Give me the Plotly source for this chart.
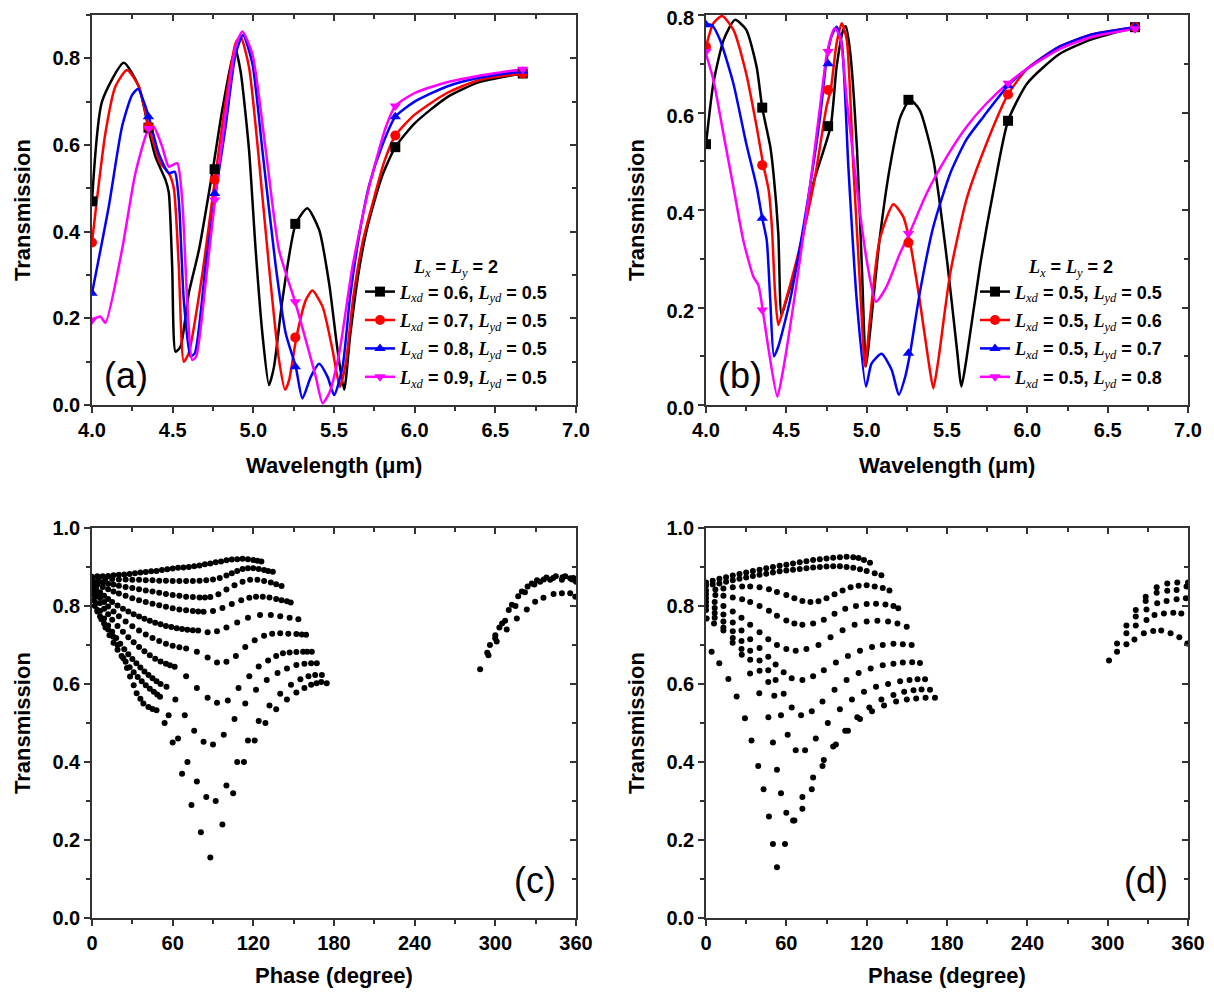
import plotly.graph_objects as go

# ---------------- Panel (a) data ----------------
A_BLACK_WL = [4.0, 4.062, 4.197, 4.290, 4.352, 4.393, 4.455, 4.476, 4.497, 4.518, 4.549, 4.600, 4.663, 4.749, 4.807, 4.870, 4.890, 4.921, 4.973, 5.014, 5.056, 5.097, 5.128, 5.180, 5.263, 5.335, 5.408, 5.470, 5.522, 5.563, 5.60, 5.65, 5.70, 5.75, 5.80, 5.88, 6.0, 6.2, 6.4, 6.67]
A_BLACK_T = [0.47, 0.70, 0.79, 0.735, 0.635, 0.573, 0.52, 0.49, 0.32, 0.123, 0.135, 0.258, 0.358, 0.544, 0.68, 0.80, 0.82, 0.77, 0.59, 0.36, 0.165, 0.046, 0.088, 0.242, 0.418, 0.454, 0.404, 0.28, 0.127, 0.035, 0.16, 0.30, 0.40, 0.47, 0.53, 0.595, 0.65, 0.71, 0.745, 0.765]
A_RED_WL = [4.0, 4.083, 4.145, 4.217, 4.290, 4.352, 4.424, 4.476, 4.507, 4.538, 4.569, 4.600, 4.683, 4.762, 4.828, 4.890, 4.921, 4.973, 5.035, 5.097, 5.159, 5.197, 5.222, 5.267, 5.325, 5.366, 5.429, 5.491, 5.536, 5.573, 5.62, 5.68, 5.75, 5.81, 5.88, 6.0, 6.2, 6.4, 6.67]
A_RED_T = [0.375, 0.627, 0.735, 0.773, 0.735, 0.642, 0.558, 0.535, 0.50, 0.32, 0.10, 0.12, 0.30, 0.52, 0.70, 0.835, 0.85, 0.78, 0.565, 0.32, 0.104, 0.035, 0.058, 0.156, 0.242, 0.264, 0.227, 0.127, 0.042, 0.096, 0.25, 0.38, 0.48, 0.56, 0.622, 0.67, 0.72, 0.75, 0.765]
A_BLUE_WL = [4.0, 4.104, 4.186, 4.248, 4.286, 4.321, 4.352, 4.414, 4.476, 4.513, 4.538, 4.569, 4.611, 4.638, 4.704, 4.766, 4.828, 4.890, 4.936, 4.994, 5.056, 5.139, 5.201, 5.263, 5.304, 5.356, 5.408, 5.460, 5.501, 5.553, 5.60, 5.66, 5.72, 5.80, 5.88, 6.0, 6.2, 6.4, 6.67]
A_BLUE_T = [0.258, 0.458, 0.642, 0.715, 0.73, 0.70, 0.665, 0.58, 0.535, 0.538, 0.473, 0.242, 0.112, 0.12, 0.32, 0.488, 0.642, 0.81, 0.854, 0.788, 0.588, 0.32, 0.165, 0.088, 0.015, 0.065, 0.095, 0.065, 0.023, 0.088, 0.25, 0.40, 0.51, 0.60, 0.665, 0.70, 0.735, 0.755, 0.77]
A_MAG_WL = [4.0, 4.052, 4.083, 4.186, 4.269, 4.352, 4.383, 4.435, 4.476, 4.528, 4.559, 4.590, 4.621, 4.646, 4.704, 4.762, 4.828, 4.890, 4.932, 4.994, 5.077, 5.159, 5.259, 5.325, 5.387, 5.429, 5.470, 5.532, 5.615, 5.718, 5.822, 5.88, 6.0, 6.2, 6.4, 6.67]
A_MAG_T = [0.196, 0.204, 0.19, 0.358, 0.535, 0.638, 0.642, 0.596, 0.55, 0.558, 0.473, 0.242, 0.104, 0.112, 0.281, 0.473, 0.673, 0.827, 0.862, 0.81, 0.588, 0.358, 0.238, 0.15, 0.065, 0.004, 0.027, 0.119, 0.32, 0.504, 0.642, 0.69, 0.72, 0.745, 0.76, 0.775]

A_MK_WL = [4.0, 4.35, 4.76, 5.26, 5.88, 6.67]
A_MK_BLACK = [0.47, 0.64, 0.544, 0.418, 0.595, 0.765]
A_MK_RED = [0.375, 0.642, 0.52, 0.156, 0.622, 0.765]
A_MK_BLUE = [0.258, 0.665, 0.488, 0.088, 0.665, 0.77]
A_MK_MAG = [0.196, 0.638, 0.473, 0.238, 0.69, 0.775]

# ---------------- Panel (b) data ----------------
B_BLACK_WL = [4.0, 4.046, 4.11, 4.18, 4.25, 4.315, 4.35, 4.40, 4.42, 4.45, 4.47, 4.50, 4.585, 4.668, 4.776, 4.813, 4.855, 4.87, 4.896, 4.94, 4.97, 4.996, 5.02, 5.08, 5.145, 5.21, 5.27, 5.33, 5.415, 5.50, 5.56, 5.59, 5.62, 5.705, 5.79, 5.88, 6.0, 6.2, 6.4, 6.67]
B_BLACK_T = [0.535, 0.66, 0.749, 0.79, 0.77, 0.694, 0.61, 0.53, 0.475, 0.352, 0.185, 0.215, 0.318, 0.455, 0.572, 0.694, 0.77, 0.777, 0.728, 0.523, 0.284, 0.079, 0.147, 0.338, 0.489, 0.591, 0.626, 0.605, 0.503, 0.297, 0.12, 0.038, 0.092, 0.284, 0.441, 0.583, 0.66, 0.72, 0.75, 0.775]
B_RED_WL = [4.0, 4.046, 4.10, 4.17, 4.25, 4.315, 4.357, 4.39, 4.41, 4.43, 4.45, 4.48, 4.564, 4.668, 4.75, 4.776, 4.813, 4.845, 4.876, 4.917, 4.958, 4.99, 5.02, 5.08, 5.166, 5.228, 5.27, 5.33, 5.384, 5.415, 5.446, 5.52, 5.62, 5.73, 5.88, 6.0, 6.2, 6.4, 6.67]
B_RED_T = [0.735, 0.783, 0.798, 0.77, 0.68, 0.571, 0.492, 0.441, 0.366, 0.229, 0.164, 0.195, 0.297, 0.448, 0.612, 0.646, 0.742, 0.783, 0.749, 0.489, 0.25, 0.079, 0.174, 0.338, 0.412, 0.386, 0.333, 0.215, 0.092, 0.034, 0.092, 0.27, 0.42, 0.523, 0.637, 0.69, 0.735, 0.76, 0.775]
B_BLUE_WL = [4.0, 4.035, 4.087, 4.17, 4.25, 4.315, 4.35, 4.378, 4.40, 4.423, 4.45, 4.523, 4.627, 4.71, 4.747, 4.78, 4.813, 4.845, 4.886, 4.938, 4.996, 5.03, 5.093, 5.156, 5.20, 5.24, 5.27, 5.33, 5.415, 5.52, 5.62, 5.726, 5.88, 6.0, 6.2, 6.4, 6.67]
B_BLUE_T = [0.78, 0.78, 0.749, 0.66, 0.537, 0.448, 0.383, 0.338, 0.215, 0.10, 0.12, 0.215, 0.407, 0.591, 0.70, 0.755, 0.776, 0.742, 0.489, 0.215, 0.038, 0.085, 0.105, 0.072, 0.021, 0.058, 0.106, 0.229, 0.366, 0.475, 0.544, 0.591, 0.655, 0.69, 0.735, 0.76, 0.775]
B_MAG_WL = [4.0, 4.046, 4.108, 4.17, 4.232, 4.295, 4.326, 4.353, 4.39, 4.444, 4.48, 4.564, 4.647, 4.71, 4.755, 4.80, 4.834, 4.876, 4.938, 5.0, 5.058, 5.124, 5.207, 5.266, 5.373, 5.498, 5.622, 5.747, 5.88, 6.0, 6.2, 6.4, 6.67]
B_MAG_T = [0.72, 0.667, 0.557, 0.448, 0.338, 0.263, 0.246, 0.195, 0.113, 0.017, 0.072, 0.25, 0.448, 0.612, 0.725, 0.773, 0.756, 0.626, 0.448, 0.297, 0.212, 0.243, 0.311, 0.352, 0.434, 0.509, 0.571, 0.619, 0.66, 0.69, 0.73, 0.755, 0.772]

B_MK_WL = [4.0, 4.35, 4.76, 5.26, 5.88, 6.67]
B_MK_BLACK = [0.535, 0.61, 0.572, 0.626, 0.583, 0.775]
B_MK_RED = [0.735, 0.492, 0.646, 0.333, 0.637, 0.775]
B_MK_BLUE = [0.78, 0.383, 0.70, 0.106, 0.655, 0.775]
B_MK_MAG = [0.725, 0.195, 0.725, 0.352, 0.66, 0.772]

# ---------------- Panel (c) data: one list per curve (phase in degree, transmission) ----------------
C_PHASE = [
    [0, 4, 8, 12, 16, 20, 24, 28, 32, 36, 40, 44, 48, 52, 56, 60, 64, 68, 72, 76, 80, 84, 88, 92, 96, 100, 104, 108, 112, 116, 120, 123, 126],
    [0, 5, 10, 15, 20, 25, 30, 35, 40, 45, 50, 55, 60, 65, 70, 75, 80, 85, 90, 95, 100, 104, 108, 112, 116, 120, 124, 128, 131, 134.5],
    [0, 4, 8, 12, 16, 20, 25, 30, 35, 40, 45, 50, 55, 60, 65, 70, 75, 80, 84, 88, 94, 100, 106, 112, 117.6, 123, 128, 133, 137, 141],
    [0, 4, 8, 12, 16, 20, 25, 30, 35, 40, 45, 50, 55, 60, 65, 70, 75, 79, 83, 90, 97, 104, 111, 117, 122, 127, 132, 137, 141, 145, 147.8],
    [0, 3, 6, 9, 12, 15, 19, 23, 27, 31, 35, 39, 43, 47, 51, 55, 59, 63, 67, 71, 75, 79, 86, 93, 100, 108, 116, 125, 133, 140, 147, 153.5],
    [0, 3, 6, 9, 12, 16, 20, 25, 30, 35, 40, 45, 50, 55, 60, 65, 70, 78, 86, 93, 100, 107, 114, 121, 128, 134, 140, 146, 152, 156, 159.2],
    [0, 3, 6, 9, 12, 15, 19, 23, 27, 31, 35, 39, 43, 47, 51, 55, 58, 61.5, 70, 78, 86, 93, 101, 109, 117, 124, 131, 137, 142, 147, 152, 157, 160, 163.5],
    [0, 3, 6, 9, 12, 15, 18, 21, 24, 27, 30, 33, 36, 39, 42, 45, 48, 51, 55.4, 62, 69, 76, 83, 90, 98, 106, 114, 122, 130, 138, 145, 152, 158, 163, 167.2],
    [1, 4, 7, 10, 13, 16, 19, 22, 25, 28, 31, 34, 37, 40, 43, 46, 48.5, 50.6, 57, 64, 71, 78, 85, 92, 100, 108, 116, 124, 132, 140, 148, 155, 161, 166, 171],
    [2, 4, 6, 9, 12, 15.9, 19, 23.3, 26, 28.3, 31, 33.2, 36, 38.2, 42, 45, 48, 54, 60, 67, 74, 81, 88, 97, 105, 113, 121, 129, 137, 145, 152, 158, 163, 167, 170.5, 174.6],
    [288.7, 294.9, 301, 308.5, 316, 323.4, 329.6, 335.8, 343.3, 349.5, 355.7, 359.5],
    [294, 299.9, 307.3, 312.3, 319.7, 327.1, 333.3, 340.8, 349.5, 355.7, 360],
    [296, 303, 310, 317, 324, 331, 338, 345, 352, 358],
    [300, 305, 315, 322, 329, 336, 343, 350, 357, 360],
]
C_T = [
    [0.875, 0.876, 0.876, 0.877, 0.879, 0.88, 0.881, 0.882, 0.884, 0.886, 0.887, 0.889, 0.89, 0.892, 0.894, 0.896, 0.898, 0.899, 0.90, 0.902, 0.904, 0.907, 0.909, 0.912, 0.914, 0.917, 0.919, 0.92, 0.921, 0.92, 0.918, 0.916, 0.914],
    [0.872, 0.871, 0.870, 0.869, 0.868, 0.868, 0.867, 0.867, 0.866, 0.866, 0.865, 0.865, 0.864, 0.864, 0.864, 0.864, 0.865, 0.866, 0.868, 0.872, 0.878, 0.884, 0.89, 0.895, 0.897, 0.897, 0.895, 0.892, 0.89, 0.888],
    [0.866, 0.863, 0.86, 0.857, 0.855, 0.852, 0.849, 0.846, 0.843, 0.84, 0.837, 0.834, 0.831, 0.828, 0.826, 0.824, 0.823, 0.822, 0.822, 0.823, 0.83, 0.842, 0.853, 0.862, 0.867, 0.867, 0.864, 0.86, 0.856, 0.851],
    [0.862, 0.855, 0.849, 0.843, 0.837, 0.832, 0.826, 0.82, 0.815, 0.81, 0.806, 0.802, 0.798, 0.794, 0.791, 0.789, 0.787, 0.786, 0.785, 0.787, 0.795, 0.805, 0.815, 0.821, 0.824, 0.824, 0.822, 0.818, 0.815, 0.812, 0.809],
    [0.856, 0.845, 0.835, 0.826, 0.818, 0.81, 0.801, 0.793, 0.786, 0.779, 0.773, 0.767, 0.762, 0.757, 0.753, 0.749, 0.746, 0.743, 0.741, 0.739, 0.738, 0.737, 0.733, 0.735, 0.745, 0.758, 0.77, 0.777, 0.777, 0.774, 0.77, 0.766],
    [0.848, 0.835, 0.822, 0.81, 0.799, 0.786, 0.774, 0.76, 0.748, 0.737, 0.727, 0.718, 0.71, 0.703, 0.698, 0.694, 0.691, 0.683, 0.668, 0.655, 0.657, 0.672, 0.695, 0.712, 0.724, 0.729, 0.73, 0.729, 0.728, 0.727, 0.726],
    [0.84, 0.824, 0.808, 0.793, 0.779, 0.765, 0.749, 0.734, 0.72, 0.707, 0.695, 0.684, 0.674, 0.665, 0.658, 0.652, 0.648, 0.644, 0.62, 0.59, 0.565, 0.552, 0.558, 0.59, 0.62, 0.645, 0.66, 0.672, 0.679, 0.681, 0.682, 0.683, 0.683, 0.683],
    [0.83, 0.808, 0.787, 0.768, 0.75, 0.734, 0.718, 0.703, 0.689, 0.676, 0.664, 0.653, 0.642, 0.632, 0.623, 0.615, 0.607, 0.60, 0.593, 0.56, 0.52, 0.48, 0.452, 0.445, 0.47, 0.51, 0.55, 0.585, 0.61, 0.628, 0.64, 0.649, 0.652, 0.653, 0.653],
    [0.815, 0.79, 0.766, 0.745, 0.725, 0.706, 0.688, 0.672, 0.657, 0.643, 0.63, 0.618, 0.607, 0.597, 0.588, 0.58, 0.573, 0.567, 0.52, 0.46, 0.40, 0.35, 0.31, 0.30, 0.34, 0.40, 0.455, 0.505, 0.545, 0.575, 0.598, 0.612, 0.62, 0.623, 0.623],
    [0.80, 0.786, 0.773, 0.755, 0.74, 0.721, 0.70, 0.666, 0.641, 0.619, 0.597, 0.576, 0.562, 0.55, 0.541, 0.536, 0.533, 0.50, 0.45, 0.37, 0.29, 0.22, 0.155, 0.24, 0.32, 0.40, 0.455, 0.50, 0.535, 0.56, 0.578, 0.59, 0.598, 0.602, 0.605, 0.602],
    [0.638, 0.674, 0.709, 0.74, 0.768, 0.791, 0.811, 0.821, 0.831, 0.833, 0.833, 0.824],
    [0.68, 0.717, 0.762, 0.803, 0.837, 0.858, 0.862, 0.867, 0.867, 0.871, 0.865],
    [0.70, 0.745, 0.79, 0.825, 0.85, 0.866, 0.873, 0.876, 0.876, 0.872],
    [0.725, 0.755, 0.80, 0.835, 0.855, 0.868, 0.872, 0.874, 0.868, 0.862],
]

# ---------------- Panel (d) data ----------------
D_PHASE = [
    [0, 5, 10, 15, 20, 25, 30, 35, 40, 45, 50, 55, 60, 65, 70, 75, 80, 85, 90, 95, 100, 105, 110, 114, 118, 122.5],
    [0, 5, 10, 15, 20, 25, 30, 35, 40, 45, 50, 55, 60, 65, 70, 75, 80, 85, 90, 95, 100, 105, 110, 115, 120, 126, 131],
    [0, 7, 13, 20, 27, 33, 40, 47, 53, 60, 66, 72, 78, 84, 90, 96, 102, 108, 114, 120, 126, 132, 137],
    [0, 7, 13, 20, 27, 33, 40, 47, 53, 60, 66, 72, 80, 88, 96, 104, 112, 120, 127, 134, 140, 143.6],
    [0, 6.5, 13, 20, 26.5, 33, 40, 46.5, 53, 60, 67, 75, 84, 93, 102, 111, 120, 128, 136, 143, 149.9],
    [0, 6.5, 13, 20, 26.5, 33, 40, 46.5, 52, 58, 64, 72, 80, 88, 97, 106, 115, 124, 132, 140, 147, 153.6],
    [0, 6.5, 13, 20, 26.5, 33, 40, 46.5, 52, 58, 64, 71, 79, 87, 96, 105, 114, 123, 132, 140, 147, 154, 159.8],
    [0, 6.5, 13, 20, 26.5, 33, 40, 46.5, 51, 56, 61, 67, 74, 82, 91, 100, 109, 118, 127, 136, 145, 152, 158, 163.6],
    [0.5, 6, 13, 19.9, 26.7, 32.9, 39.8, 46.6, 50, 53, 56, 60, 66, 72, 79, 87, 95, 104, 113, 122, 131, 140, 148, 155, 161, 167.3],
    [4.2, 9.9, 16.7, 22.9, 29.1, 34, 39, 43, 47, 50, 53, 59, 65, 72, 80, 88, 97, 106, 115, 124, 133, 142, 150, 157, 164, 171],
    [301, 307, 314, 320, 327, 334, 340, 347, 353.5, 359.5],
    [307, 314, 321, 329, 335, 342, 349, 355],
    [314, 321, 329, 337, 344, 351.5, 358.4],
    [321, 328.4, 336.6, 344.5, 351.5, 358.9],
    [328.4, 336.6, 344.5, 352, 360],
]
D_T = [
    [0.86, 0.865, 0.87, 0.874, 0.878, 0.882, 0.886, 0.89, 0.893, 0.897, 0.90, 0.903, 0.906, 0.909, 0.912, 0.915, 0.918, 0.92, 0.922, 0.924, 0.925, 0.926, 0.925, 0.923, 0.918, 0.911],
    [0.852, 0.855, 0.858, 0.862, 0.866, 0.87, 0.873, 0.877, 0.88, 0.883, 0.886, 0.889, 0.891, 0.893, 0.895, 0.897, 0.899, 0.90, 0.901, 0.902, 0.902, 0.90, 0.898, 0.894, 0.89, 0.884, 0.879],
    [0.84, 0.842, 0.845, 0.848, 0.85, 0.85, 0.848, 0.843, 0.836, 0.828, 0.82, 0.813, 0.81, 0.812, 0.82, 0.83, 0.84, 0.848, 0.852, 0.853, 0.85, 0.846, 0.84],
    [0.83, 0.828, 0.826, 0.822, 0.817, 0.81, 0.80, 0.788, 0.775, 0.763, 0.755, 0.752, 0.755, 0.765, 0.78, 0.793, 0.80, 0.805, 0.806, 0.804, 0.80, 0.794],
    [0.82, 0.81, 0.80, 0.786, 0.77, 0.752, 0.733, 0.715, 0.70, 0.69, 0.685, 0.69, 0.70, 0.72, 0.738, 0.752, 0.76, 0.762, 0.76, 0.755, 0.747],
    [0.81, 0.795, 0.778, 0.758, 0.737, 0.715, 0.692, 0.67, 0.65, 0.63, 0.615, 0.61, 0.62, 0.635, 0.655, 0.672, 0.685, 0.695, 0.70, 0.703, 0.702, 0.70],
    [0.80, 0.782, 0.76, 0.735, 0.71, 0.685, 0.66, 0.635, 0.61, 0.575, 0.54, 0.52, 0.53, 0.555, 0.585, 0.61, 0.628, 0.64, 0.648, 0.652, 0.655, 0.656, 0.654],
    [0.79, 0.77, 0.745, 0.718, 0.69, 0.662, 0.634, 0.605, 0.57, 0.52, 0.47, 0.43, 0.43, 0.46, 0.50, 0.535, 0.56, 0.58, 0.593, 0.60, 0.607, 0.61, 0.612, 0.612],
    [0.768, 0.755, 0.737, 0.706, 0.675, 0.627, 0.576, 0.515, 0.45, 0.38, 0.32, 0.27, 0.25, 0.28, 0.33, 0.39, 0.44, 0.48, 0.515, 0.54, 0.56, 0.572, 0.58, 0.584, 0.586, 0.585],
    [0.683, 0.653, 0.613, 0.568, 0.512, 0.455, 0.39, 0.33, 0.26, 0.19, 0.13, 0.19, 0.25, 0.31, 0.36, 0.405, 0.445, 0.48, 0.51, 0.53, 0.545, 0.555, 0.56, 0.563, 0.565, 0.565],
    [0.66, 0.683, 0.702, 0.714, 0.73, 0.736, 0.737, 0.73, 0.72, 0.704],
    [0.704, 0.73, 0.75, 0.764, 0.777, 0.781, 0.783, 0.781],
    [0.75, 0.773, 0.791, 0.807, 0.813, 0.817, 0.82],
    [0.79, 0.813, 0.834, 0.839, 0.841, 0.85],
    [0.824, 0.848, 0.858, 0.86, 0.86],
]

A_LEGEND = [("0.6", "0.5"), ("0.7", "0.5"), ("0.8", "0.5"), ("0.9", "0.5")]
B_LEGEND = [("0.5", "0.5"), ("0.5", "0.6"), ("0.5", "0.7"), ("0.5", "0.8")]

T_TICKS_08 = [0.0, 0.2, 0.4, 0.6, 0.8]
T_TICKS_10 = [0.0, 0.2, 0.4, 0.6, 0.8, 1.0]
WL_TICKS = [4.0, 4.5, 5.0, 5.5, 6.0, 6.5, 7.0]
PH_TICKS = [0, 60, 120, 180, 240, 300, 360]

COLORS = ["#000000", "#FF0000", "#0000FF", "#FF00FF"]
SYMBOLS = ["square", "circle", "triangle-up", "triangle-down"]
FONT = "Liberation Sans"
SERIF = "Liberation Serif"

fig = go.Figure()


def Lsym(sub):
    return (f'<span style="font-family:{SERIF}"><i>L</i></span>'
            f'<sub><span style="font-family:{SERIF}; font-weight:normal"><i>{sub}</i></span></sub>')


def add_panel_lines(xs_list, ys_list, mk_x, mk_ys, legend_vals, xa, ya, legend_name):
    for i in range(4):
        fig.add_trace(go.Scatter(x=xs_list[i], y=ys_list[i], mode="lines",
                                 line=dict(color=COLORS[i], width=2.5, shape="spline", smoothing=0.6),
                                 xaxis=xa, yaxis=ya, showlegend=False, hoverinfo="skip"))
    for i in range(4):
        fig.add_trace(go.Scatter(x=mk_x, y=mk_ys[i], mode="markers",
                                 marker=dict(color=COLORS[i], symbol=SYMBOLS[i], size=10),
                                 xaxis=xa, yaxis=ya, showlegend=False))
    for i in range(4):
        xd, yd = legend_vals[i]
        name = f"{Lsym('xd')} = {xd}, {Lsym('yd')} = {yd}"
        fig.add_trace(go.Scatter(x=[None], y=[None], mode="lines+markers", name=name,
                                 line=dict(color=COLORS[i], width=2.5),
                                 marker=dict(color=COLORS[i], symbol=SYMBOLS[i], size=10),
                                 legendgroup=f"{legend_name}_{i}",
                                 xaxis=xa, yaxis=ya, legend=legend_name))


add_panel_lines([A_BLACK_WL, A_RED_WL, A_BLUE_WL, A_MAG_WL], [A_BLACK_T, A_RED_T, A_BLUE_T, A_MAG_T],
                A_MK_WL, [A_MK_BLACK, A_MK_RED, A_MK_BLUE, A_MK_MAG], A_LEGEND, "x", "y", "legend")
add_panel_lines([B_BLACK_WL, B_RED_WL, B_BLUE_WL, B_MAG_WL], [B_BLACK_T, B_RED_T, B_BLUE_T, B_MAG_T],
                B_MK_WL, [B_MK_BLACK, B_MK_RED, B_MK_BLUE, B_MK_MAG], B_LEGEND, "x2", "y2", "legend2")

for px, pt in zip(C_PHASE, C_T):
    fig.add_trace(go.Scatter(x=px, y=pt, mode="markers", marker=dict(color="black", size=6),
                             xaxis="x3", yaxis="y3", showlegend=False))
for px, pt in zip(D_PHASE, D_T):
    fig.add_trace(go.Scatter(x=px, y=pt, mode="markers", marker=dict(color="black", size=6),
                             xaxis="x4", yaxis="y4", showlegend=False))

# The page places the figure 8 px in from the top-left corner; positions are given in
# reference-image pixels and converted to paper coordinates with that offset.
OFF = 8
W, H = 1214 - OFF, 996 - OFF


def px_x(p):
    return (p - OFF) / W


def px_y(p):
    return 1 - (p - OFF) / H


XL = [px_x(92), px_x(576)]
XR = [px_x(706), px_x(1188)]
YT = [px_y(405), px_y(15)]
YB = [px_y(918), px_y(528)]

tickfont = dict(family=FONT, size=20, color="black", weight="bold")
titlefont = dict(family=FONT, size=22, color="black", weight="bold")
AXC = "#333333"
AX = dict(showline=True, linecolor=AXC, linewidth=1.5, mirror=True, ticks="outside",
          ticklen=6, tickwidth=1.5, tickcolor=AXC, showgrid=False, zeroline=False,
          tickfont=tickfont, automargin=False, ticklabeloverflow="allow")


def minor(d, where="outside"):
    return dict(dtick=d, ticks=where, ticklen=4, tickwidth=1.5, tickcolor=AXC, showgrid=False)


specs = {
    1: (XL, YT, [4, 7], WL_TICKS, 0.25, ".1f", [0, 0.9], T_TICKS_08, 0.1),
    2: (XR, YT, [4, 7], WL_TICKS, 0.25, ".1f", [0, 0.8], T_TICKS_08, 0.1),
    3: (XL, YB, [0, 360], PH_TICKS, 30, "d", [0, 1.0], T_TICKS_10, 0.1),
    4: (XR, YB, [0, 360], PH_TICKS, 30, "d", [0, 1.0], T_TICKS_10, 0.1),
}
lay = {}
for k, (dx, dy, xr, xtv, xmn, xfmt, yr, ytv, ymn) in specs.items():
    sx = "" if k == 1 else str(k)
    lay[f"xaxis{sx}"] = dict(AX, domain=dx, anchor=f"y{sx}", range=xr, tickmode="array",
                             tickvals=xtv, ticktext=[format(v, xfmt) for v in xtv],
                             minor=dict(minor(xmn), tick0=xr[0]))
    lay[f"yaxis{sx}"] = dict(AX, domain=dy, anchor=f"x{sx}", range=yr, tickmode="array",
                             tickvals=ytv, ticktext=[f"{v:.1f}" for v in ytv],
                             minor=dict(minor(ymn), tick0=0))
    ox = k + 4
    lay[f"xaxis{ox}"] = dict(overlaying=f"x{sx}", anchor=f"y{sx}", side="top", range=xr,
                             tickmode="array", tickvals=xtv,
                             ticks="inside", ticklen=6, tickwidth=1.5, tickcolor=AXC,
                             showticklabels=False, showgrid=False, zeroline=False, showline=False,
                             automargin=False, minor=dict(minor(xmn, "inside"), tick0=xr[0]))
    lay[f"yaxis{ox}"] = dict(overlaying=f"y{sx}", anchor=f"x{sx}", side="right", range=yr,
                             tickmode="array", tickvals=ytv,
                             ticks="inside", ticklen=6, tickwidth=1.5, tickcolor=AXC,
                             showticklabels=False, showgrid=False, zeroline=False, showline=False,
                             automargin=False, minor=dict(minor(ymn, "inside"), tick0=0))

# keep the top "0.8" label of panel (b) fully inside the page (positive = downward here)
lay["yaxis2"]["ticklabelshift"] = 3

# invisible traces to anchor the mirrored-tick axes
for k in range(1, 5):
    sx = "" if k == 1 else str(k)
    fig.add_trace(go.Scatter(x=[None], y=[None], xaxis=f"x{k+4}", yaxis=f"y{sx}", showlegend=False))
    fig.add_trace(go.Scatter(x=[None], y=[None], xaxis=f"x{sx}", yaxis=f"y{k+4}", showlegend=False))

header = f"{Lsym('x')} = {Lsym('y')} = 2"
legfont = dict(family=FONT, size=18, color="black", weight="bold")
lay["legend"] = dict(x=px_x(360), y=px_y(250), xanchor="left", yanchor="top",
                     bgcolor="rgba(0,0,0,0)", font=legfont, tracegroupgap=2, traceorder="grouped",
                     title=dict(text=header, font=legfont, side="top center"))
lay["legend2"] = dict(x=px_x(975), y=px_y(250), xanchor="left", yanchor="top",
                      bgcolor="rgba(0,0,0,0)", font=legfont, tracegroupgap=2, traceorder="grouped",
                      title=dict(text=header, font=legfont, side="top center"))

labfont = dict(family=FONT, size=36, color="black")
annots = []
for txt, x, y in [("(a)", 126, 375), ("(b)", 740, 375), ("(c)", 535, 880), ("(d)", 1146, 880)]:
    annots.append(dict(text=txt, x=px_x(x), y=px_y(y), font=labfont))
for x, y in [(22, 210), (636, 210), (22, 723), (636, 723)]:
    annots.append(dict(text="Transmission", x=px_x(x), y=px_y(y), font=titlefont, textangle=-90))
for x, y, txt in [(334, 465, "Wavelength (μm)"), (947, 465, "Wavelength (μm)"),
                  (334, 975, "Phase (degree)"), (947, 975, "Phase (degree)")]:
    annots.append(dict(text=txt, x=px_x(x), y=px_y(y), font=titlefont))
lay["annotations"] = [dict(a, xref="paper", yref="paper", showarrow=False,
                           xanchor="center", yanchor="middle") for a in annots]

fig.update_layout(**lay)
fig.update_layout(width=W, height=H, margin=dict(l=0, r=0, t=0, b=0, autoexpand=False),
                  plot_bgcolor="white", paper_bgcolor="white", template="none",
                  font=dict(family=FONT, color="black"))

fig.write_html("out.html")
